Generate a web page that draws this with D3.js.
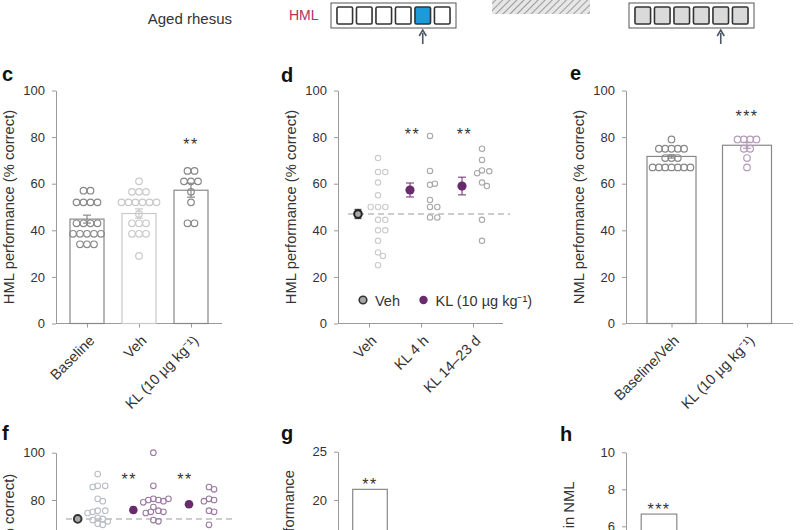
<!DOCTYPE html>
<html><head><meta charset="utf-8">
<script src="https://cdn.jsdelivr.net/npm/d3@7"></script>
<style>body{margin:0;background:#fff}svg{display:block}</style>
</head><body><svg id="fig" width="800" height="530"></svg>
<script>
// ---------------- DATA ----------------
const KL = "KL (10 \u00B5g kg\u207B\u00B9)";
const yTicksPct = [0, 20, 40, 60, 80, 100];

// panel c
const cCategories = ["Baseline", "Veh", KL];
const cMeans = [44.8, 47.2, 57.2];
const cSem = [1.7, 2.0, 3.0];
const cBaselinePts = [57,57,52,52,52,52,43,43,43,43,38.5,38.5,38.5,38.5,38.5,34,34,34];
const cVehPts = [61,56.5,56.5,56.5,52,52,52,52,52,52,47,43,43,43,38.5,38.5,38.5,29];
const cKLPts = [65.5,65.5,61,61,61,56.5,52,43,43];
const cSig = ["", "", "**"];
const cSigAt = 78;

// panel d
const dCategories = ["Veh", "KL 4 h", "KL 14\u201323 d"];
const dMeans = [47, 57.3, 59];
const dSem = [2, 3, 3.8];
const dVehPts = [71,65,65,60.5,55,50,50,50,44.5,44.5,40,40,35.5,30.5,29,25];
const dKL4Pts = [80.5,65.5,59.5,60,53,50,50,45.5,45.5];
const dKL14Pts = [75,70.2,65.7,65.3,64.5,60.5,59,44.5,35.5];
const dVehLine = 47;
const dSig = ["", "**", "**"];
const dSigAt = 82.3;
const dLegend = ["Veh", KL];

// panel e
const eCategories = ["Baseline/Veh", KL];
const eMeans = [71.7, 76.5];
const eSem = [0.7, 1.3];
const eVehPts = [79,75,75,75,75,75,71,71,71,67,67,67,67,67,67,67];
const eKLPts = [79,79,79,79,75,75,71,67];
const eSig = ["", "***"];
const eSigAt = 90;

// panel f
const fCategories = ["Veh", "KL 4 h", "KL 14\u201323 d"];
const fMeans = [72, 75.8, 78.2];
const fSem = [0.8, 1.2, 1.2];
const fVehPts = [91,86,86,85.5,80.5,79.5,75.5,75.5,75,74.5,72.5,72,71.5,71,70,69.5];
const fKL4Pts = [100,86,80.5,80,80,79.5,79,80.5,77,75.5,75,74.5,75,71.5,71];
const fKL14Pts = [85.5,84.5,80.5,80,79.5,75.5,75,69.5];
const fVehLine = 72;
const fSig = ["", "**", "**"];
const fSigAt = 89.8;

// panel g
const gCategories = ["KL 4 h"];
const gValues = [21.1];
const gTicks = [0, 5, 10, 15, 20, 25];
const gSig = ["**"];
const gSigAt = 21.9;

// panel h
const hCategories = ["KL 4 h"];
const hValues = [6.66];
const hTicks = [0, 2, 4, 6, 8, 10];
const hSig = ["***"];
const hSigAt = 7.05;

// top schematic
const cells = [0, 1, 2, 3, 4, 5];
const hmlTarget = 4;
const nmlTarget = 4;

// ---------------- STYLE ----------------
const FONT = "'Liberation Sans', Arial, sans-serif";
const AX = "#9a9a9a", TXT = "#333", DARK = "#888", LIGHT = "#c9c9c9";
const PURPLE = "#6a2b6c", LPURPLE = "#b49cb8", FPURPLE = "#9a7a9f", FGRAY = "#b8bec6";
const H = 530;

const svg = d3.select("#fig").style("font-family", FONT);
svg.append("rect").attr("width", 800).attr("height", H).attr("fill", "#fff");

// ---------------- HELPERS ----------------
function yAxis(g, y, ticks, axisX) {
  const shown = ticks.filter(t => y(t) < H + 4);
  const a = g.append("g").attr("transform", `translate(${axisX},0)`)
    .call(d3.axisLeft(y).tickValues(shown).tickSize(4).tickPadding(7).tickSizeOuter(0));
  a.attr("font-family", FONT).attr("font-size", 13);
  a.select(".domain").attr("stroke", AX);
  a.selectAll(".tick line").attr("stroke", AX);
  a.selectAll(".tick text").attr("fill", TXT);
}
function xAxis(g, x, axisX, xEnd, yBase) {
  g.append("line").attr("x1", axisX).attr("x2", xEnd).attr("y1", yBase).attr("y2", yBase)
    .attr("stroke", AX);
  const a = g.append("g").attr("transform", `translate(0,${yBase})`)
    .call(d3.axisBottom(x).tickSize(4).tickSizeOuter(0));
  a.attr("font-family", FONT).attr("font-size", 14.5);
  a.select(".domain").remove();
  a.selectAll(".tick line").attr("stroke", AX);
  a.selectAll(".tick text").attr("fill", TXT).attr("text-anchor", "end")
    .attr("x", 0).attr("y", 0).attr("dy", 0)
    .attr("transform", "translate(8,18) rotate(-45)");
}
function yLabel(g, text, x, y, anchor) {
  g.append("text").attr("transform", `translate(${x},${y}) rotate(-90)`)
    .attr("text-anchor", anchor || "middle").attr("font-size", 14.8).attr("fill", TXT).text(text);
}
function letter(g, t, x, y) {
  g.append("text").attr("x", x).attr("y", y).attr("font-size", 20).attr("font-weight", "bold")
    .attr("fill", "#111").text(t);
}
function stars(g, xs, y, sig, at) {
  sig.forEach((s, i) => {
    if (!s) return;
    g.append("text").attr("x", xs[i]).attr("y", y(at) + 8.5)
      .attr("text-anchor", "middle").attr("font-size", 16).attr("letter-spacing", 1.5)
      .attr("fill", TXT).text(s);
  });
}
function rows(vals, cx, y, spacing) {
  const out = [];
  for (const [v, arr] of d3.group(vals, d => d))
    arr.forEach((_, i) => out.push({ x: cx + (i - (arr.length - 1) / 2) * spacing, y: y(v) }));
  return out;
}
function swarm(vals, cx, y, r) {
  const placed = [];
  vals.forEach(v => {
    const py = y(v);
    for (let k = 0; k < 60; k++) {
      const px = cx + (k % 2 ? 1 : -1) * Math.ceil(k / 2) * r * 0.9;
      if (placed.every(p => Math.hypot(p.x - px, p.y - py) >= 2 * r * 0.92)) {
        placed.push({ x: px, y: py }); break;
      }
    }
  });
  return placed;
}
function dots(g, pts, r, color, sw) {
  g.selectAll(null).data(pts).join("circle").attr("cx", d => d.x).attr("cy", d => d.y)
    .attr("r", r).attr("fill", "none").attr("stroke", color).attr("stroke-width", sw || 1.1);
}
function errBar(g, cx, y, m, s, color, cap, w) {
  g.append("line").attr("x1", cx).attr("x2", cx).attr("y1", y(m - s)).attr("y2", y(m + s))
    .attr("stroke", color).attr("stroke-width", w || 1);
  [m - s, m + s].forEach(v => g.append("line").attr("x1", cx - cap).attr("x2", cx + cap)
    .attr("y1", y(v)).attr("y2", y(v)).attr("stroke", color).attr("stroke-width", w || 1));
}

// ---------------- TOP SCHEMATIC ----------------
const topG = svg.append("g");
topG.append("text").attr("x", 232).attr("y", 24).attr("text-anchor", "end").attr("font-size", 15)
  .attr("fill", TXT).text("Aged rhesus");
topG.append("text").attr("x", 289).attr("y", 20).attr("font-size", 14).attr("fill", "#b2305e").text("HML");
const defs = svg.append("defs");
const pat = defs.append("pattern").attr("id", "hatch").attr("patternUnits", "userSpaceOnUse")
  .attr("width", 5).attr("height", 5).attr("patternTransform", "rotate(45)");
pat.append("rect").attr("width", 5).attr("height", 5).attr("fill", "#e6e6e6");
pat.append("line").attr("x1", 0).attr("y1", 0).attr("x2", 0).attr("y2", 5).attr("stroke", "#9a9a9a").attr("stroke-width", 2);
topG.append("rect").attr("x", 492).attr("y", -2).attr("width", 98).attr("height", 16).attr("fill", "url(#hatch)");
function schematic(x0, target, fill, hi) {
  const cx = d3.scaleBand().domain(cells).range([x0 + 5, x0 + 120]).paddingInner(0.2).paddingOuter(0.05);
  topG.append("rect").attr("x", x0).attr("y", 3).attr("width", 125).attr("height", 25)
    .attr("fill", "#fff").attr("stroke", "#555").attr("stroke-width", 1);
  topG.selectAll(null).data(cells).join("rect").attr("x", d => cx(d)).attr("y", 7)
    .attr("width", cx.bandwidth()).attr("height", 17).attr("rx", 1.5)
    .attr("fill", d => d === target && hi ? hi : fill).attr("stroke", "#333").attr("stroke-width", 1.6);
  const ax = cx(target) + cx.bandwidth() / 2;
  topG.append("line").attr("x1", ax).attr("x2", ax).attr("y1", 44).attr("y2", 33)
    .attr("stroke", "#4a5866").attr("stroke-width", 1.6);
  topG.append("path").attr("d", `M${ax - 3.5},${36} L${ax},${30} L${ax + 3.5},${36}`)
    .attr("fill", "none").attr("stroke", "#4a5866").attr("stroke-width", 1.6);
}
schematic(331, hmlTarget, "#fff", "#1c9bd8");
schematic(629, nmlTarget, "#dadada", null);

// ---------------- PANEL C ----------------
{
  const g = svg.append("g");
  const y = d3.scaleLinear().domain([0, 100]).range([323.5, 90.5]);
  const x = d3.scalePoint().domain(cCategories).range([87, 191]);
  yAxis(g, y, yTicksPct, 56);
  xAxis(g, x, 56, 222, 323.5);
  const cols = [DARK, LIGHT, DARK];
  const pts = [cBaselinePts, cVehPts, cKLPts];
  cCategories.forEach((c, i) => {
    g.append("rect").attr("x", x(c) - 17).attr("y", y(cMeans[i])).attr("width", 34)
      .attr("height", y(0) - y(cMeans[i])).attr("fill", "#fff").attr("stroke", cols[i]).attr("stroke-width", 1.2);
    dots(g, rows(pts[i], x(c), y, 7), 3.3, cols[i], 1.2);
    errBar(g, x(c), y, cMeans[i], cSem[i], cols[i], 4, 1.2);
  });
  stars(g, cCategories.map(c => x(c)), y, cSig, cSigAt);
  yLabel(g, "HML performance (% correct)", 14, 207);
  letter(g, "c", 2, 81);
}

// ---------------- PANEL D ----------------
{
  const g = svg.append("g");
  const y = d3.scaleLinear().domain([0, 100]).range([323.5, 90.5]);
  const x = d3.scalePoint().domain(dCategories).range([369, 473]);
  yAxis(g, y, yTicksPct, 338);
  xAxis(g, x, 338, 503, 323.5);
  g.append("line").attr("x1", 348).attr("x2", 510).attr("y1", y(dVehLine)).attr("y2", y(dVehLine))
    .attr("stroke", "#bdbdbd").attr("stroke-width", 1.5).attr("stroke-dasharray", "6,4");
  const pts = [dVehPts, dKL4Pts, dKL14Pts];
  const pc = ["#cbcbcb", "#a9a9a9", "#a9a9a9"];
  dCategories.forEach((c, i) => dots(g, swarm(pts[i], x(c) + 9, y, 2.7), 2.7, pc[i], 1.1));
  dCategories.forEach((c, i) => {
    const mx = x(c) - 11;
    if (i === 0) {
      errBar(g, mx, y, dMeans[i], dSem[i], "#333", 3.5, 1);
      g.append("circle").attr("cx", mx).attr("cy", y(dMeans[i])).attr("r", 3.8)
        .attr("fill", "#a8a8a8").attr("stroke", "#222").attr("stroke-width", 2);
    } else {
      errBar(g, mx, y, dMeans[i], dSem[i], PURPLE, 4, 1);
      g.append("circle").attr("cx", mx).attr("cy", y(dMeans[i])).attr("r", 4.6).attr("fill", PURPLE);
    }
  });
  stars(g, dCategories.map(c => x(c) - 8.5), y, dSig, dSigAt);
  // legend
  g.append("circle").attr("cx", 363).attr("cy", 300).attr("r", 3.8).attr("fill", "#a8a8a8")
    .attr("stroke", "#333").attr("stroke-width", 1.6);
  g.append("text").attr("x", 375).attr("y", 305.5).attr("font-size", 14.5).attr("fill", TXT).text(dLegend[0]);
  g.append("circle").attr("cx", 423.5).attr("cy", 300).attr("r", 4.2).attr("fill", PURPLE);
  g.append("text").attr("x", 435.5).attr("y", 305.5).attr("font-size", 14.5).attr("fill", TXT).text(dLegend[1]);
  yLabel(g, "HML performance (% correct)", 296, 207);
  letter(g, "d", 281, 82);
}

// ---------------- PANEL E ----------------
{
  const g = svg.append("g");
  const y = d3.scaleLinear().domain([0, 100]).range([323.5, 90.5]);
  const x = d3.scalePoint().domain(eCategories).range([671.5, 747]);
  yAxis(g, y, yTicksPct, 626);
  xAxis(g, x, 626, 793, 323.5);
  const pts = [eVehPts, eKLPts];
  const cols = [DARK, LPURPLE];
  eCategories.forEach((c, i) => {
    g.append("rect").attr("x", x(c) - 24.5).attr("y", y(eMeans[i])).attr("width", 49)
      .attr("height", y(0) - y(eMeans[i])).attr("fill", "#fff").attr("stroke", DARK).attr("stroke-width", 1.2);
    dots(g, rows(pts[i], x(c), y, 6.3), 3.3, cols[i], 1.2);
    errBar(g, x(c), y, eMeans[i], eSem[i], cols[i], 4, 1.2);
  });
  stars(g, eCategories.map(c => x(c)), y, eSig, eSigAt);
  yLabel(g, "NML performance (% correct)", 584, 207);
  letter(g, "e", 570, 80);
}

// ---------------- PANEL F ----------------
{
  const g = svg.append("g");
  const y = d3.scaleLinear().domain([0, 100]).range([689.2, 452.7]);
  const x = d3.scalePoint().domain(fCategories).range([88.7, 200]);
  yAxis(g, y, yTicksPct, 56);
  g.append("line").attr("x1", 66).attr("x2", 234).attr("y1", y(fVehLine)).attr("y2", y(fVehLine))
    .attr("stroke", "#bdbdbd").attr("stroke-width", 1.5).attr("stroke-dasharray", "6,4");
  const pts = [fVehPts, fKL4Pts, fKL14Pts];
  const pc = [FGRAY, FPURPLE, FPURPLE];
  fCategories.forEach((c, i) => dots(g, swarm(pts[i], x(c) + 9, y, 2.8), 2.8, pc[i], 1.1));
  fCategories.forEach((c, i) => {
    const mx = x(c) - 11;
    if (i === 0) {
      g.append("circle").attr("cx", mx).attr("cy", y(fMeans[i])).attr("r", 3.8)
        .attr("fill", "#a8a8a8").attr("stroke", "#333").attr("stroke-width", 2);
    } else {
      errBar(g, mx, y, fMeans[i], fSem[i], PURPLE, 3, 1);
      g.append("circle").attr("cx", mx).attr("cy", y(fMeans[i])).attr("r", 4.3).attr("fill", PURPLE);
    }
  });
  stars(g, fCategories.map(c => x(c) - 15), y, fSig, fSigAt);
  yLabel(g, "NML performance (% correct)", 14, 571);
  letter(g, "f", 2, 440);
}

// ---------------- PANEL G ----------------
{
  const g = svg.append("g");
  const y = d3.scaleLinear().domain([0, 25]).range([693, 451.7]);
  const x = d3.scalePoint().domain(gCategories).range([370, 370]);
  yAxis(g, y, gTicks, 338);
  gCategories.forEach((c, i) => g.append("rect").attr("x", x(c) - 17.3).attr("y", y(gValues[i]))
    .attr("width", 34.6).attr("height", y(0) - y(gValues[i])).attr("fill", "#fff")
    .attr("stroke", DARK).attr("stroke-width", 1.2));
  stars(g, gCategories.map(c => x(c)), y, gSig, gSigAt);
  yLabel(g, "Change in HML performance", 294, 470, "end");
  letter(g, "g", 281, 440);
}

// ---------------- PANEL H ----------------
{
  const g = svg.append("g");
  const y = d3.scaleLinear().domain([0, 10]).range([637.3, 452.3]);
  const x = d3.scalePoint().domain(hCategories).range([659, 659]);
  yAxis(g, y, hTicks, 626);
  hCategories.forEach((c, i) => g.append("rect").attr("x", x(c) - 17.8).attr("y", y(hValues[i]))
    .attr("width", 35.6).attr("height", y(0) - y(hValues[i])).attr("fill", "#fff")
    .attr("stroke", DARK).attr("stroke-width", 1.2));
  stars(g, hCategories.map(c => x(c)), y, hSig, hSigAt);
  yLabel(g, "Improvement in NML", 573.5, 481.5, "end");
  letter(g, "h", 560, 441);
}
</script></body></html>
